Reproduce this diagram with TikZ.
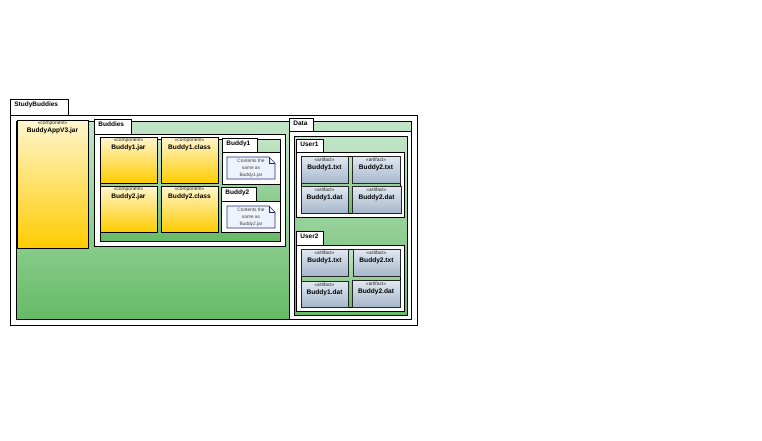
\documentclass[tikz,border=0pt]{standalone}
\usepackage{fontspec}
\setmainfont{Liberation Sans}
\definecolor{grnTop}{HTML}{C2E5C8}
\definecolor{grnBot}{HTML}{66BB66}
\definecolor{cmpTop}{HTML}{FFF6CF}
\definecolor{cmpBot}{HTML}{FFCC00}
\definecolor{artTop}{HTML}{E2E9F1}
\definecolor{artBot}{HTML}{A6B7CB}
\definecolor{noteLine}{HTML}{1F2A80}
\definecolor{noteFill}{HTML}{EEF2FB}
\tikzset{
  pkgtab/.style={draw=black, fill=white},
  pkgbody/.style={draw=black, fill=white},
  greenarea/.style={draw=black, top color=grnTop, bottom color=grnBot},
  component/.style={draw=black, top color=cmpTop, bottom color=cmpBot},
  artifact/.style={draw=black!85, top color=artTop, bottom color=artBot},
  notepath/.style={draw=noteLine, fill=noteFill, line width=0.6pt},
  tabtext/.style={font=\bfseries\fontsize{6.5}{7}\selectfont, inner sep=0, anchor=base west},
  stereo/.style={font=\fontsize{4.9}{5}\selectfont, inner sep=0, anchor=base, text=black!85},
  elemname/.style={font=\bfseries\fontsize{6.6}{7}\selectfont, inner sep=0, anchor=base},
  notetext/.style={font=\fontsize{4.8}{7}\selectfont, align=center, text=black!75, inner sep=0}
}
% rectangle node from its top-left and bottom-right corners (y grows downward)
\newcommand\rbox[6]{%
  \pgfmathsetmacro\rw{#4-#2}\pgfmathsetmacro\rh{#5-#3}%
  \node[#6, anchor=north west, minimum width=\rw pt, minimum height=\rh pt,
        inner sep=0pt, outer sep=0pt] (#1) at (#2,-#3) {};}
% package tab with its title
\newcommand\pkgtab[6]{%
  \rbox{#1}{#2}{#3}{#4}{#5}{pkgtab}%
  \node[tabtext] (#1-lbl) at ([xshift=4pt,yshift=-7.5pt]#1.north west) {#6};}
% component box
\newcommand\comp[6]{%
  \rbox{#1}{#2}{#3}{#4}{#5}{component}%
  \node[stereo] (#1-st) at ([yshift=-4.7pt]#1.north) {\textless\textless component\textgreater\textgreater};
  \node[elemname] (#1-nm) at ([yshift=-12.5pt]#1.north) {#6};}
% artifact box
\newcommand\artf[6]{%
  \rbox{#1}{#2}{#3}{#4}{#5}{artifact}%
  \node[stereo] (#1-st) at ([yshift=-5.7pt]#1.north) {\textless\textless artifact\textgreater\textgreater};
  \node[elemname] (#1-nm) at ([yshift=-13.5pt]#1.north) {#6};}
% note with a folded corner
\newcommand\notebox[6]{%
  \rbox{#1}{#2}{#3}{#4}{#5}{}%
  \draw[notepath] (#1.north west) -- ([xshift=-6pt]#1.north east) -- ([yshift=-6pt]#1.north east)
        -- (#1.south east) -- (#1.south west) -- cycle;
  \draw[notepath, fill=none] ([xshift=-6pt]#1.north east) |- ([yshift=-6pt]#1.north east);
  \node[notetext] (#1-tx) at ([yshift=-0.5pt]#1.center) {Contents the\\same as\\#6};}
\begin{document}
\begin{tikzpicture}[x=1pt, y=1pt, line width=0.8pt]
\fill[white] (0,0) rectangle (762,-440);
\useasboundingbox (0,0) rectangle (762,-440);

% StudyBuddies package
\pkgtab{sbTab}{10}{99}{68}{115}{StudyBuddies}
\rbox{sbBody}{10}{115}{417}{325}{pkgbody}
\rbox{sbArea}{16}{121}{411}{319}{greenarea}

\comp{appJar}{17}{120}{88}{248}{BuddyAppV3.jar}

% Buddies package
\pkgtab{bdTab}{94}{119}{131}{134}{Buddies}
\rbox{bdBody}{94}{134}{285}{246}{pkgbody}
\rbox{bdArea}{100}{139}{280}{241}{greenarea}

\comp{b1jar}{100}{137}{157}{183}{Buddy1.jar}
\comp{b1cls}{161}{137}{218}{183}{Buddy1.class}
\comp{b2jar}{100}{186}{157}{232}{Buddy2.jar}
\comp{b2cls}{161}{186}{218}{232}{Buddy2.class}

\pkgtab{p1Tab}{222}{138}{257}{152}{Buddy1}
\rbox{p1Body}{222}{152}{280}{184}{pkgbody}
\notebox{n1}{227}{157}{275}{179}{Buddy1.jar}

\pkgtab{p2Tab}{221}{187}{256}{201}{Buddy2}
\rbox{p2Body}{221}{201}{280}{232}{pkgbody}
\notebox{n2}{227}{206}{275}{228}{Buddy2.jar}

% Data package
\pkgtab{dtTab}{289}{118}{313}{131}{Data}
\rbox{dtBody}{289}{131}{411}{319}{pkgbody}
\rbox{dtArea}{294}{136}{407}{315}{greenarea}

\pkgtab{u1Tab}{296}{139}{323}{152}{User1}
\rbox{u1Body}{296}{152}{404}{217}{pkgbody}
\rbox{u1Area}{301}{156}{400}{213}{greenarea}
\artf{u1a}{301}{156}{348}{183}{Buddy1.txt}
\artf{u1b}{352}{156}{400}{183}{Buddy2.txt}
\artf{u1c}{301}{186}{348}{213}{Buddy1.dat}
\artf{u1d}{352}{186}{401}{213}{Buddy2.dat}

\pkgtab{u2Tab}{296}{231}{323}{245}{User2}
\rbox{u2Body}{296}{245}{404}{311}{pkgbody}
\rbox{u2Area}{301}{249}{400}{307}{greenarea}
\artf{u2a}{301}{249}{348}{276}{Buddy1.txt}
\artf{u2b}{353}{249}{400}{276}{Buddy2.txt}
\artf{u2c}{301}{281}{348}{307}{Buddy1.dat}
\artf{u2d}{352}{280}{400}{307}{Buddy2.dat}
\end{tikzpicture}
\end{document}
